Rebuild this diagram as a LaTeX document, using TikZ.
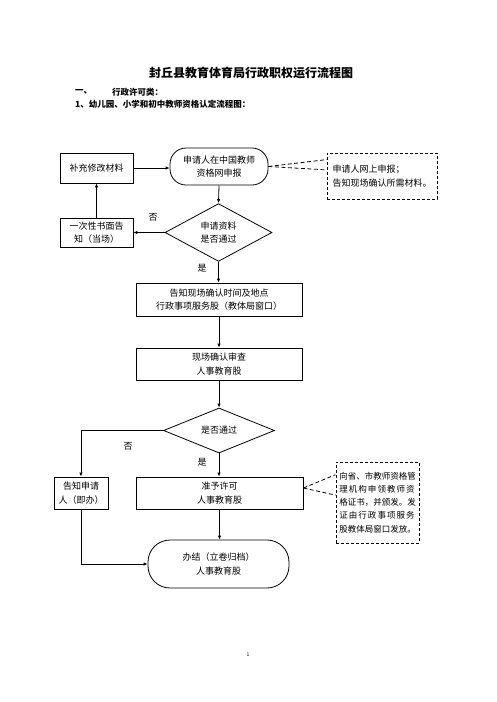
\documentclass[tikz,border=0pt]{standalone}
\usepackage{fontspec}
\setmainfont{Noto Sans CJK SC}
\newfontfamily\cjk{Noto Sans CJK SC}
\usepackage{tikz}
\usetikzlibrary{arrows.meta,calc,shapes.geometric}

\begin{document}
\begin{tikzpicture}[x=1pt,y=-1pt,>={Latex[length=4pt,width=3.4pt]},
  every node/.style={font=\cjk\fontsize{9}{13.5}\selectfont,inner sep=0pt},
  procbox/.style={draw,line width=0.8pt,align=center},
  roundbox/.style={procbox,rounded corners=16pt},
  notebox/.style={draw,line width=0.9pt,dash pattern=on 3pt off 2pt},
  testbox/.style={procbox,diamond},
  flow/.style={->,line width=0.8pt},
  noteline/.style={line width=0.8pt,dash pattern=on 4pt off 2.5pt}]
  \useasboundingbox (0,0) rectangle (496,702);
  % headings
  \node[font=\cjk\bfseries\fontsize{12}{14}\selectfont] (title) at (251,73)
    {封丘县教育体育局行政职权运行流程图};
  \node[anchor=west,font=\cjk\bfseries\fontsize{8.5}{10}\selectfont] (sec) at (75,92) {一、};
  \node[anchor=west,font=\cjk\bfseries\fontsize{8.5}{10}\selectfont] (sectitle) at (112,92) {行政许可类：};
  \node[anchor=west,font=\cjk\bfseries\fontsize{8.5}{10}\selectfont] (sub) at (75,104)
    {1、幼儿园、小学和初中教师资格认定流程图：};
  % upper part: online application
  \node[procbox,minimum width=73pt,minimum height=30pt] (fix) at (96.5,168) {补充修改材料};
  \node[roundbox,minimum width=98pt,minimum height=37pt] (apply) at (219,166.5)
    {申请人在中国教师\\资格网申报};
  \node[notebox,minimum width=110pt,minimum height=46pt,align=left] (web) at (382,176)
    {申请人网上申报；\\告知现场确认所需材料。};
  \node[testbox,minimum width=107pt,minimum height=49pt] (chk1) at (218.5,232.5)
    {申请资料\\是否通过};
  \node[procbox,minimum width=73pt,minimum height=29pt] (tell1) at (96.5,232.5)
    {一次性书面告\\知（当场）};
  \draw[flow] (fix.east) -- (fix.east -| apply.west);
  \draw[noteline] (apply.east) -- ($(web.north west)!0.15!(web.south west)$);
  \draw[noteline] (apply.east) -- ($(web.north west)!0.37!(web.south west)$);
  \draw[flow] (apply.south) -- (chk1.north);
  \draw[flow] (chk1.west) -- (tell1.east);
  \draw[flow] (tell1.north) -- (fix.south);
  \node (no1) at (153,217) {否};
  % on-site check
  \node[procbox,minimum width=166pt,minimum height=33pt] (notice) at (219,299.5)
    {告知现场确认时间及地点\\行政事项服务股（教体局窗口）};
  \node[procbox,minimum width=166pt,minimum height=32pt] (review) at (219,364)
    {现场确认审查\\人事教育股};
  \node[testbox,minimum width=111pt,minimum height=45pt] (chk2) at (219,430.5) {是否通过};
  \draw[flow] (chk1.south) -- (chk1.south |- notice.north);
  \node (yes1) at (202,268) {是};
  \draw[flow] (notice.south) -- (notice.south |- review.north);
  \draw[flow] (review.south) -- (review.south |- chk2.north);
  % lower part: decision
  \node[procbox,minimum width=54pt,minimum height=32pt] (tell2) at (81,493)
    {告知申请\\人（即办）};
  \node[procbox,minimum width=167pt,minimum height=32pt] (grant) at (219.5,493)
    {准予许可\\人事教育股};
  \node[notebox,minimum width=83pt,minimum height=81pt,align=left,
        font=\cjk\fontsize{8.5}{13.2}\selectfont] (issue) at (377.5,502.5)
    {向省、市教师资格管\\{\addfontfeature{LetterSpace=12.5}理机构申领教师资}\\格证书，并颁发。发\\
     {\addfontfeature{LetterSpace=12.5}证由行政事项服务}\\股教体局窗口发放。};
  \node[roundbox,rounded corners=22pt,minimum width=141pt,minimum height=48pt] (done) at (218.5,564)
    {办结（立卷归档）\\人事教育股};
  \draw[flow] (chk2.west) -| (tell2.north);
  \node (no2) at (128,446) {否};
  \draw[flow] (chk2.south) -- (chk2.south |- grant.north);
  \node (yes2) at (202,462) {是};
  \draw[noteline] ($(grant.east)+(0,-5)$) -- ($(issue.north west)!0.16!(issue.south west)$);
  \draw[noteline] ($(grant.east)+(0,-5)$) -- ($(issue.north west)!0.41!(issue.south west)$);
  \draw[flow] (grant.south) -- (grant.south |- done.north);
  \draw[flow] (tell2.south) |- (done.west);
  \node[font=\cjk\fontsize{5}{6}\selectfont] (page) at (248,655) {1};
\end{tikzpicture}
\end{document}
